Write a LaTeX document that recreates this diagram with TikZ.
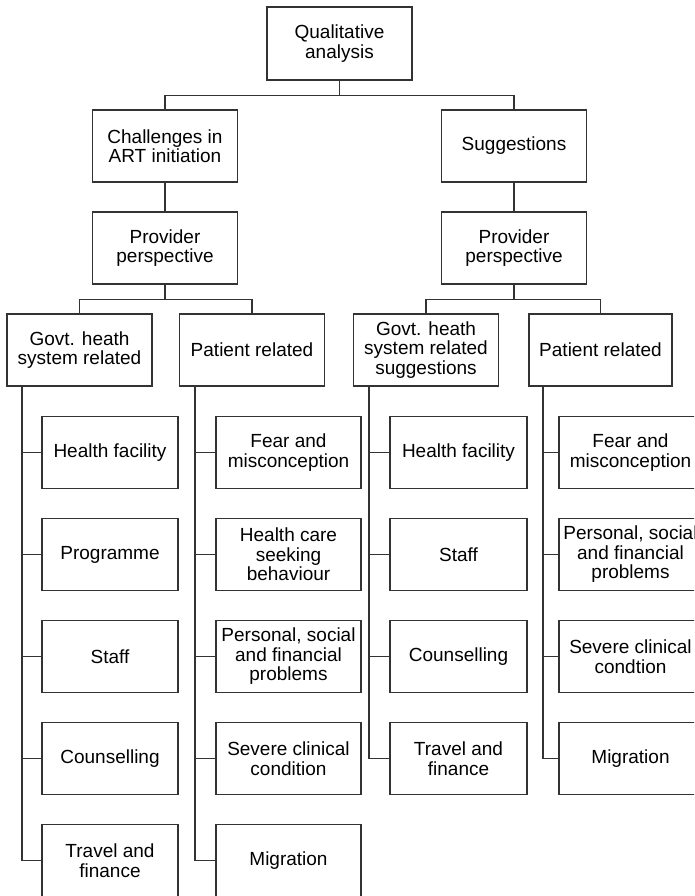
\documentclass[tikz,border=0pt]{standalone}
\usepackage{fontspec}
\setmainfont{Liberation Sans}
\begin{document}
\begin{tikzpicture}[x=1pt,y=-1pt,
  box/.style={draw=black!80, line width=1.2pt, fill=white, rectangle, inner sep=0pt,
    align=center, minimum height=72pt, font=\fontsize{19}{19.5}\selectfont},
  wA/.style={box, minimum width=145pt},
  wL/.style={box, minimum width=136pt},
  wC/.style={box, minimum width=137pt},
  wide/.style={box, minimum width=143pt},
  conn/.style={draw=black!80, line width=1.2pt}]
\useasboundingbox (0,0) rectangle (694,896);
\clip (0,0) rectangle (694,896);
% top levels
\node[wA, minimum height=73pt] (top) at (339.5,43.5) {Qualitative\\analysis};
\node[wA] (chal) at (165,146) {Challenges in\\ART initiation};
\node[wA] (sugg) at (514,146) {Suggestions};
\node[wA] (provL) at (165,248) {Provider\\perspective};
\node[wA] (provR) at (514,248) {Provider\\perspective};
\node[wA] (govL) at (79.5,350) {Govt. heath\\system related};
\node[wA] (patL) at (252,350) {Patient related};
\node[wA] (govR) at (426,350) {Govt. heath\\system related\\suggestions};
\node[wide] (patR) at (600.5,350) {Patient related};
% column A
\node[wL] (a1) at (110,452.5) {Health facility};
\node[wL] (a2) at (110,554.5) {Programme};
\node[wL] (a3) at (110,656.5) {Staff};
\node[wL] (a4) at (110,758.5) {Counselling};
\node[wL] (a5) at (110,860.5) {Travel and\\finance};
% column B
\node[wA] (b1) at (288.5,452.5) {Fear and\\misconception};
\node[wA] (b2) at (288.5,554.5) {Health care\\seeking\\behaviour};
\node[wA] (b3) at (288.5,656.5) {Personal, social\\and financial\\problems};
\node[wA] (b4) at (288.5,758.5) {Severe clinical\\condition};
\node[wA] (b5) at (288.5,860.5) {Migration};
% column C
\node[wC] (c1) at (458.5,452.5) {Health facility};
\node[wC] (c2) at (458.5,554.5) {Staff};
\node[wC] (c3) at (458.5,656.5) {Counselling};
\node[wC] (c4) at (458.5,758.5) {Travel and\\finance};
% column D
\node[wide] (d1) at (630.5,452.5) {Fear and\\misconception};
\node[wide] (d2) at (630.5,554.5) {Personal, social\\and financial\\problems};
\node[wide] (d3) at (630.5,656.5) {Severe clinical\\condtion};
\node[wide] (d4) at (630.5,758.5) {Migration};
% tree connectors
\draw[conn] (top.south) -- ++(0,15) coordinate (j0);
\draw[conn] (chal.north) |- (j0) -| (sugg.north);
\draw[conn] (chal.south) -- (provL.north);
\draw[conn] (sugg.south) -- (provR.north);
\draw[conn] (provL.south) -- ++(0,15) coordinate (j1);
\draw[conn] (govL.north) |- (j1) -| (patL.north);
\draw[conn] (provR.south) -- ++(0,15) coordinate (j2);
\draw[conn] (govR.north) |- (j2) -| (patR.north);
% vertical spines
\coordinate (vA) at (22,386);
\coordinate (vB) at (195,386);
\coordinate (vC) at (369,386);
\coordinate (vD) at (543,386);
\draw[conn] (vA) |- (a5.west);
\draw[conn] (vB) |- (b5.west);
\draw[conn] (vC) |- (c4.west);
\draw[conn] (vD) |- (d4.west);
\foreach \n in {a1,a2,a3,a4} \draw[conn] (\n.west) -- (\n.west -| vA);
\foreach \n in {b1,b2,b3,b4} \draw[conn] (\n.west) -- (\n.west -| vB);
\foreach \n in {c1,c2,c3} \draw[conn] (\n.west) -- (\n.west -| vC);
\foreach \n in {d1,d2,d3} \draw[conn] (\n.west) -- (\n.west -| vD);
\end{tikzpicture}
\end{document}
